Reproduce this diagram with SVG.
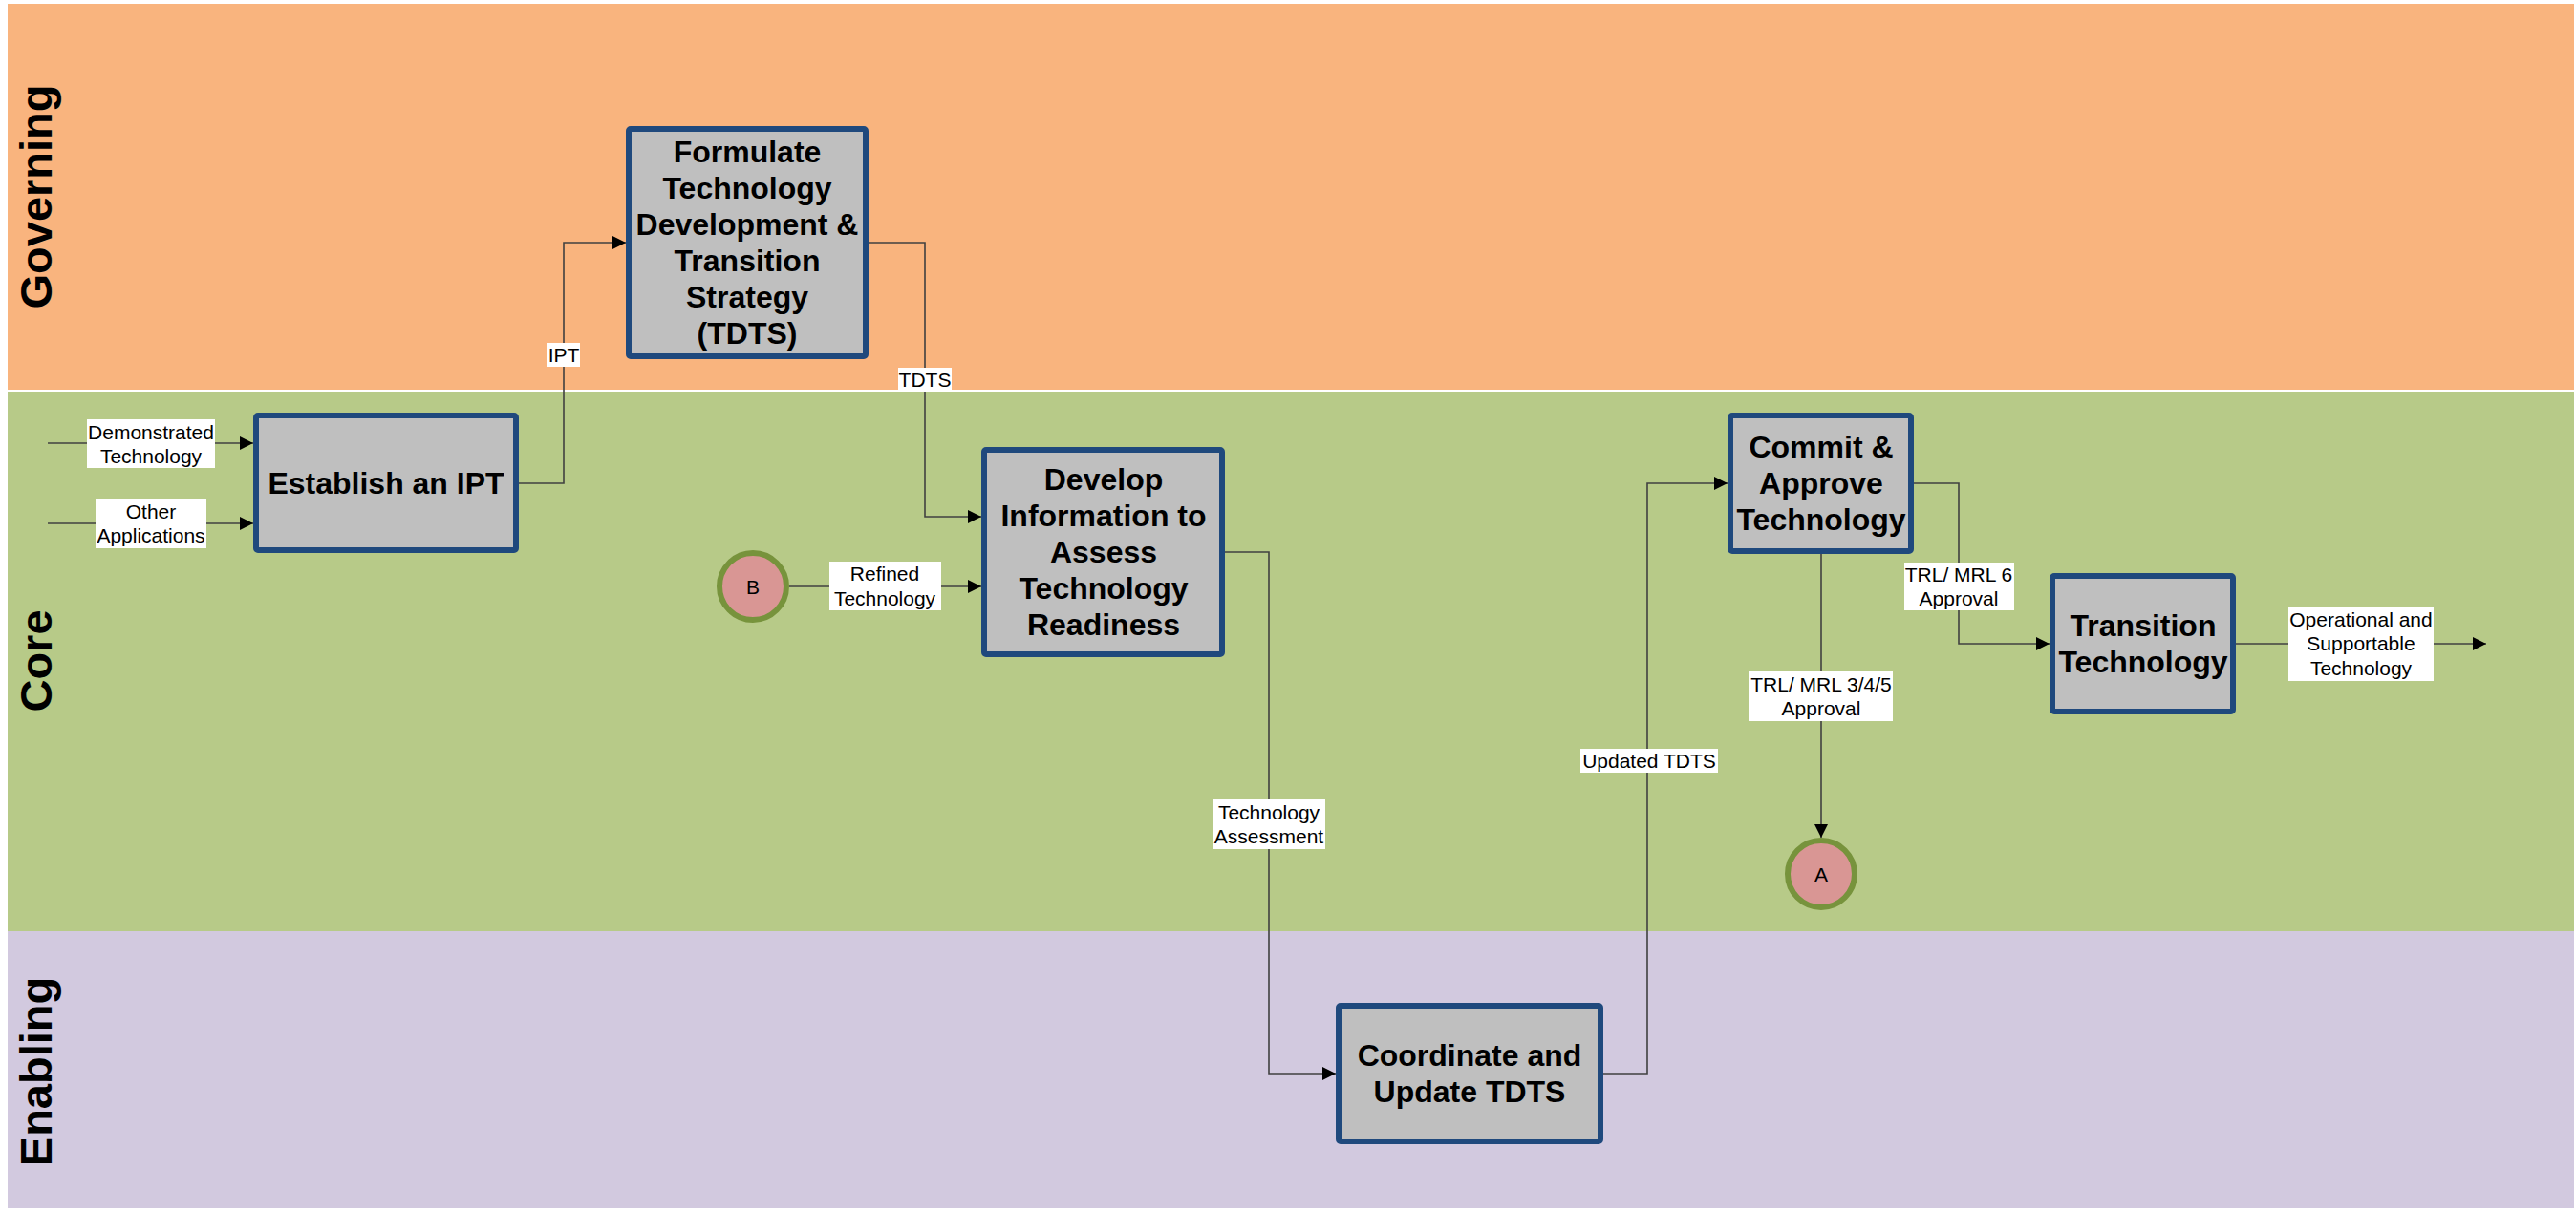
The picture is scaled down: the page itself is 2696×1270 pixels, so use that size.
<svg xmlns="http://www.w3.org/2000/svg" width="2696" height="1270" viewBox="0 0 2696 1270">
<style>
.lane-label{font-family:"Liberation Sans",Arial,sans-serif;font-weight:bold;font-size:47px;fill:#000;text-anchor:middle}
.box{fill:#BFBFBF;stroke:#1F497D;stroke-width:6}
.nt{font-family:"Liberation Sans",Arial,sans-serif;font-weight:bold;font-size:32px;fill:#000;text-anchor:middle}
.conn{fill:none;stroke:#404040;stroke-width:1.6}
.lbg{fill:#FFFFFF}
.lt{font-family:"Liberation Sans",Arial,sans-serif;font-size:21px;fill:#000;text-anchor:middle}
.circ{fill:#D99694;stroke:#77933C;stroke-width:6}
.ct{font-family:"Liberation Sans",Arial,sans-serif;font-size:21px;fill:#000;text-anchor:middle}
</style>
<defs>
<marker id="arr" markerUnits="userSpaceOnUse" markerWidth="14" markerHeight="14" refX="14" refY="7" orient="auto">
<path d="M0,0 L14,7 L0,14 z" fill="#000"/>
</marker>
</defs>
<rect x="0" y="0" width="2696" height="1270" fill="#FFFFFF"/>
<g id="lanes">
<rect x="8" y="4" width="2686" height="405" fill="#F9B47E"/>
<rect x="8" y="409" width="2686" height="566" fill="#B7CA88"/>
<rect x="8" y="975" width="2686" height="290" fill="#D2C9DF"/>
<line x1="8" y1="409" x2="2694" y2="409" stroke="#FFFFFF" stroke-width="2"/>
<text class="lane-label" transform="translate(54,206) rotate(-90)">Governing</text>
<text class="lane-label" transform="translate(54,692) rotate(-90)">Core</text>
<text class="lane-label" transform="translate(54,1122) rotate(-90)">Enabling</text>
</g>
<g id="connectors">
<g id="c-demo">
<path class="conn" d="M50,464 L265,464" marker-end="url(#arr)"/>
<rect class="lbg" x="91" y="439" width="134" height="51"/>
<text class="lt" x="158" y="460">Demonstrated</text>
<text class="lt" x="158" y="485">Technology</text>
</g>
<g id="c-other">
<path class="conn" d="M50,548 L265,548" marker-end="url(#arr)"/>
<rect class="lbg" x="100" y="522" width="116" height="52"/>
<text class="lt" x="158" y="543">Other</text>
<text class="lt" x="158" y="568">Applications</text>
</g>
<g id="c-ipt">
<path class="conn" d="M543,506 L590,506 L590,254 L655,254" marker-end="url(#arr)"/>
<rect class="lbg" x="573" y="359" width="34" height="25"/>
<text class="lt" x="590" y="379">IPT</text>
</g>
<g id="c-tdts">
<path class="conn" d="M909,254 L968,254 L968,541 L1027,541" marker-end="url(#arr)"/>
<rect class="lbg" x="940" y="385" width="56" height="25"/>
<text class="lt" x="968" y="405">TDTS</text>
</g>
<g id="c-refined">
<path class="conn" d="M826,614 L1027,614" marker-end="url(#arr)"/>
<rect class="lbg" x="868" y="588" width="117" height="51"/>
<text class="lt" x="926" y="608">Refined</text>
<text class="lt" x="926" y="634">Technology</text>
</g>
<g id="c-assess">
<path class="conn" d="M1282,578 L1328,578 L1328,1124 L1398,1124" marker-end="url(#arr)"/>
<rect class="lbg" x="1270" y="837" width="117" height="52"/>
<text class="lt" x="1328" y="858">Technology</text>
<text class="lt" x="1328" y="883">Assessment</text>
</g>
<g id="c-updated">
<path class="conn" d="M1678,1124 L1724,1124 L1724,506 L1808,506" marker-end="url(#arr)"/>
<rect class="lbg" x="1654" y="784" width="144" height="25"/>
<text class="lt" x="1726" y="804">Updated TDTS</text>
</g>
<g id="c-trl6">
<path class="conn" d="M2003,506 L2050,506 L2050,674 L2145,674" marker-end="url(#arr)"/>
<rect class="lbg" x="1993" y="589" width="115" height="50"/>
<text class="lt" x="2050" y="609">TRL/ MRL 6</text>
<text class="lt" x="2050" y="634">Approval</text>
</g>
<g id="c-trl345">
<path class="conn" d="M1906,580 L1906,877" marker-end="url(#arr)"/>
<rect class="lbg" x="1830" y="703" width="151" height="52"/>
<text class="lt" x="1906" y="724">TRL/ MRL 3/4/5</text>
<text class="lt" x="1906" y="749">Approval</text>
</g>
<g id="c-oper">
<path class="conn" d="M2340,674 L2602,674" marker-end="url(#arr)"/>
<rect class="lbg" x="2395" y="636" width="152" height="77"/>
<text class="lt" x="2471" y="656">Operational and</text>
<text class="lt" x="2471" y="681">Supportable</text>
<text class="lt" x="2471" y="707">Technology</text>
</g>
</g>
<g id="n-formulate">
<rect class="box" x="658" y="135" width="248" height="238" rx="2"/>
<text class="nt" x="782" y="170">Formulate</text>
<text class="nt" x="782" y="208">Technology</text>
<text class="nt" x="782" y="246">Development &amp;</text>
<text class="nt" x="782" y="284">Transition</text>
<text class="nt" x="782" y="322">Strategy</text>
<text class="nt" x="782" y="360">(TDTS)</text>
</g>
<g id="n-establish">
<rect class="box" x="268" y="435" width="272" height="141" rx="2"/>
<text class="nt" x="404" y="517">Establish an IPT</text>
</g>
<g id="n-develop">
<rect class="box" x="1030" y="471" width="249" height="214" rx="2"/>
<text class="nt" x="1155" y="513">Develop</text>
<text class="nt" x="1155" y="551">Information to</text>
<text class="nt" x="1155" y="589">Assess</text>
<text class="nt" x="1155" y="627">Technology</text>
<text class="nt" x="1155" y="665">Readiness</text>
</g>
<g id="n-commit">
<rect class="box" x="1811" y="435" width="189" height="142" rx="2"/>
<text class="nt" x="1906" y="479">Commit &amp;</text>
<text class="nt" x="1906" y="517">Approve</text>
<text class="nt" x="1906" y="555">Technology</text>
</g>
<g id="n-transition">
<rect class="box" x="2148" y="603" width="189" height="142" rx="2"/>
<text class="nt" x="2243" y="666">Transition</text>
<text class="nt" x="2243" y="704">Technology</text>
</g>
<g id="n-coordinate">
<rect class="box" x="1401" y="1053" width="274" height="142" rx="2"/>
<text class="nt" x="1538" y="1116">Coordinate and</text>
<text class="nt" x="1538" y="1154">Update TDTS</text>
</g>
<g id="n-B">
<circle class="circ" cx="788" cy="614" r="35"/>
<text class="ct" x="788" y="622">B</text>
</g>
<g id="n-A">
<circle class="circ" cx="1906" cy="915" r="35"/>
<text class="ct" x="1906" y="923">A</text>
</g>
</svg>
